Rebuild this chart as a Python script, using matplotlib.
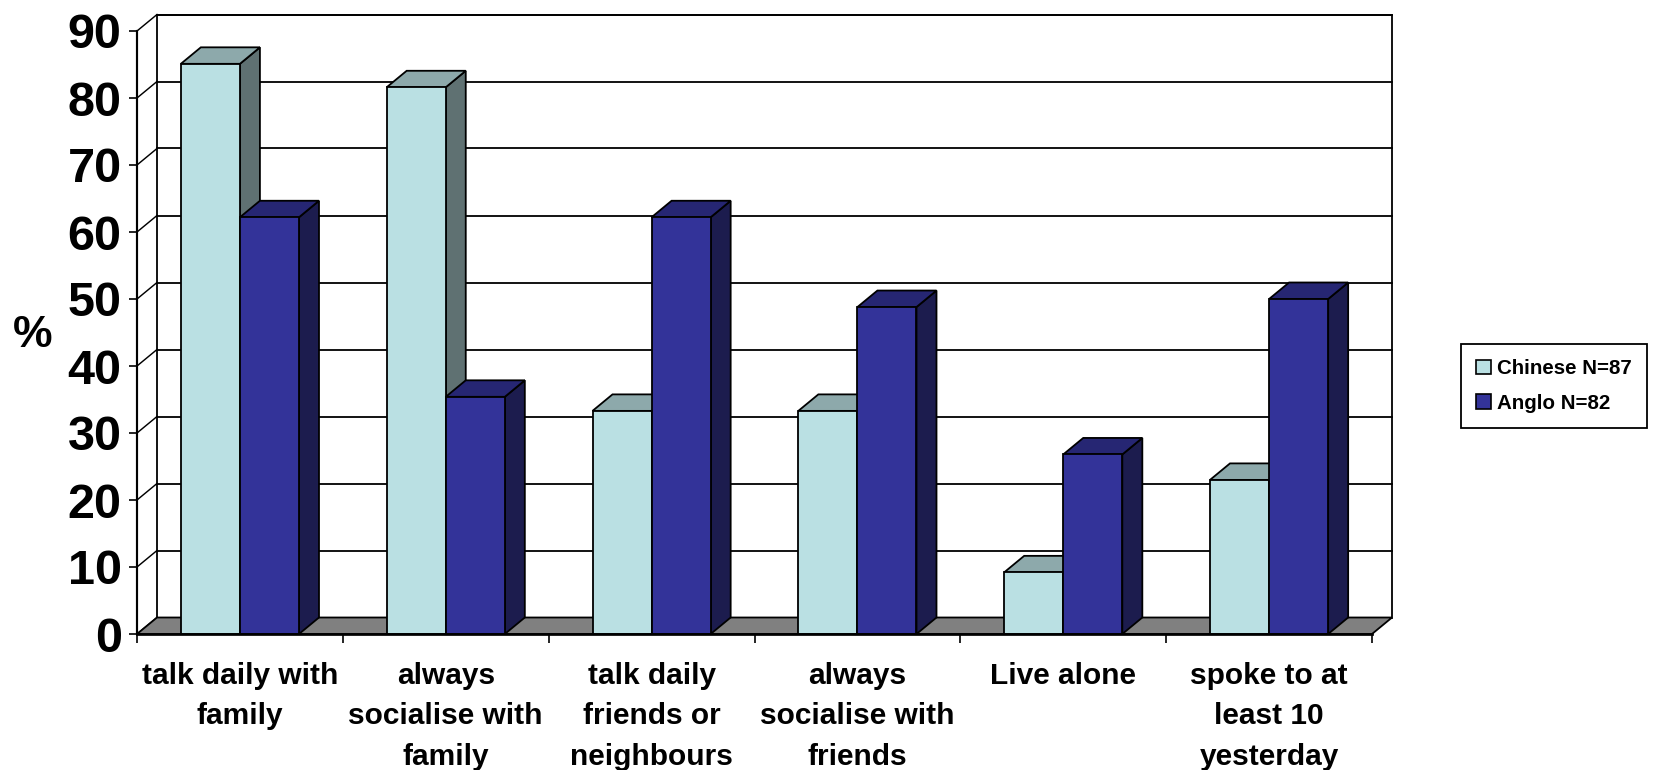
import matplotlib.pyplot as plt
from matplotlib.patches import Polygon, Patch, Rectangle

plt.rcParams.update({
    'font.family': ['Liberation Sans', 'DejaVu Sans'],
    'font.weight': 'bold',
})

# data
categories = ["talk daily with\nfamily", "always\nsocialise with\nfamily",
              "talk daily\nfriends or\nneighbours", "always\nsocialise with\nfriends",
              "Live alone", "spoke to at\nleast 10\nyesterday"]
chinese = [85.1, 81.6, 33.3, 33.3, 9.2, 23.0]
anglo = [62.2, 35.4, 62.2, 48.8, 26.8, 50.0]
series_labels = ["Chinese N=87", "Anglo N=82"]
yticks = [0, 10, 20, 30, 40, 50, 60, 70, 80, 90]

# face colours: front, top, side
STYLE = {
    "Chinese N=87": ('#BAE0E3', '#8DA9AB', '#5F7172'),
    "Anglo N=82": ('#333399', '#262673', '#1C1C4E'),
}

W, H = 1655, 770
fig = plt.figure(figsize=(W / 100, H / 100), dpi=100)
ax_l, ax_b, ax_w, ax_h = 137, 136, 1235, 603
ax = fig.add_axes([ax_l / W, ax_b / H, ax_w / W, ax_h / H])
ncat = len(categories)
ax.set_xlim(0, ncat)
ax.set_ylim(0, 90)

# depth offset (pixels -> data units)
DX = 20 / (ax_w / ncat)
DY = 16.5 / (ax_h / 90)
LW = 1.3

# back wall + gridlines
ax.add_patch(Rectangle((DX, DY), ncat, 90, facecolor='white', edgecolor='black',
                       lw=LW, zorder=0, clip_on=False))
for t in yticks[1:]:
    ax.plot([DX, ncat + DX], [t + DY, t + DY], color='black', lw=LW, zorder=0.5, clip_on=False)
for t in yticks:
    ax.plot([0, DX], [t, t + DY], color='black', lw=LW * 0.8, zorder=0.5, clip_on=False)

# floor
ax.add_patch(Polygon([(0, 0), (ncat, 0), (ncat + DX, DY), (DX, DY)], closed=True,
                     facecolor='#808080', edgecolor='black', lw=LW, zorder=1, clip_on=False))

bar_w = 0.287
gap = (1 - 2 * bar_w) / 2


def bar3d(x0, v, colors, z):
    front, top, side = colors
    ax.add_patch(Polygon([(x0 + bar_w, 0), (x0 + bar_w + DX, DY), (x0 + bar_w + DX, v + DY),
                          (x0 + bar_w, v)], closed=True, facecolor=side, edgecolor='black',
                         lw=LW, zorder=z, clip_on=False))
    ax.add_patch(Polygon([(x0, v), (x0 + bar_w, v), (x0 + bar_w + DX, v + DY), (x0 + DX, v + DY)],
                         closed=True, facecolor=top, edgecolor='black', lw=LW, zorder=z,
                         clip_on=False))
    ax.add_patch(Rectangle((x0, 0), bar_w, v, facecolor=front, edgecolor='black', lw=LW,
                           zorder=z + 0.1, clip_on=False))


for i in range(ncat):
    for j, (name, vals) in enumerate(zip(series_labels, [chinese, anglo])):
        bar3d(i + gap + j * bar_w, vals[i], STYLE[name], 3 + i * 2 + j)

# axes
for s in ['top', 'right']:
    ax.spines[s].set_visible(False)
ax.spines['left'].set_linewidth(LW * 1.2)
ax.spines['bottom'].set_linewidth(LW * 1.5)
ax.spines['left'].set_zorder(30)
ax.spines['bottom'].set_zorder(30)
ax.set_yticks(yticks)
ax.set_yticklabels([str(t) for t in yticks], fontsize=35, fontweight='bold')
ax.tick_params(axis='y', direction='out', length=6, width=1.2, pad=5)
ax.set_xticks(range(ncat + 1))
ax.set_xticklabels([])
ax.tick_params(axis='x', direction='out', length=6.5, width=1.2)

for i, lab in enumerate(categories):
    ax.text(i + 0.5, -0.046, lab, transform=ax.get_xaxis_transform(), ha='center', va='top',
            fontsize=21.5, fontweight='bold', linespacing=1.58, clip_on=False)

fig.text(33 / W, 1 - 336 / H, '%', fontsize=32, fontweight='bold', ha='center', va='center')

handles = [Patch(facecolor=STYLE[n][0], edgecolor='black', lw=1.2, label=n) for n in series_labels]
leg = fig.legend(handles=handles, loc='upper left', bbox_to_anchor=(1461 / W, 1 - 344 / H),
                 frameon=True, fancybox=False, edgecolor='black', framealpha=1,
                 prop={'size': 14.8, 'weight': 'bold'}, handlelength=0.7, handleheight=0.7,
                 handletextpad=0.3, borderpad=0.75, labelspacing=0.75, borderaxespad=0)
leg.get_frame().set_linewidth(1.3)

fig.savefig('out.png', dpi=100)
